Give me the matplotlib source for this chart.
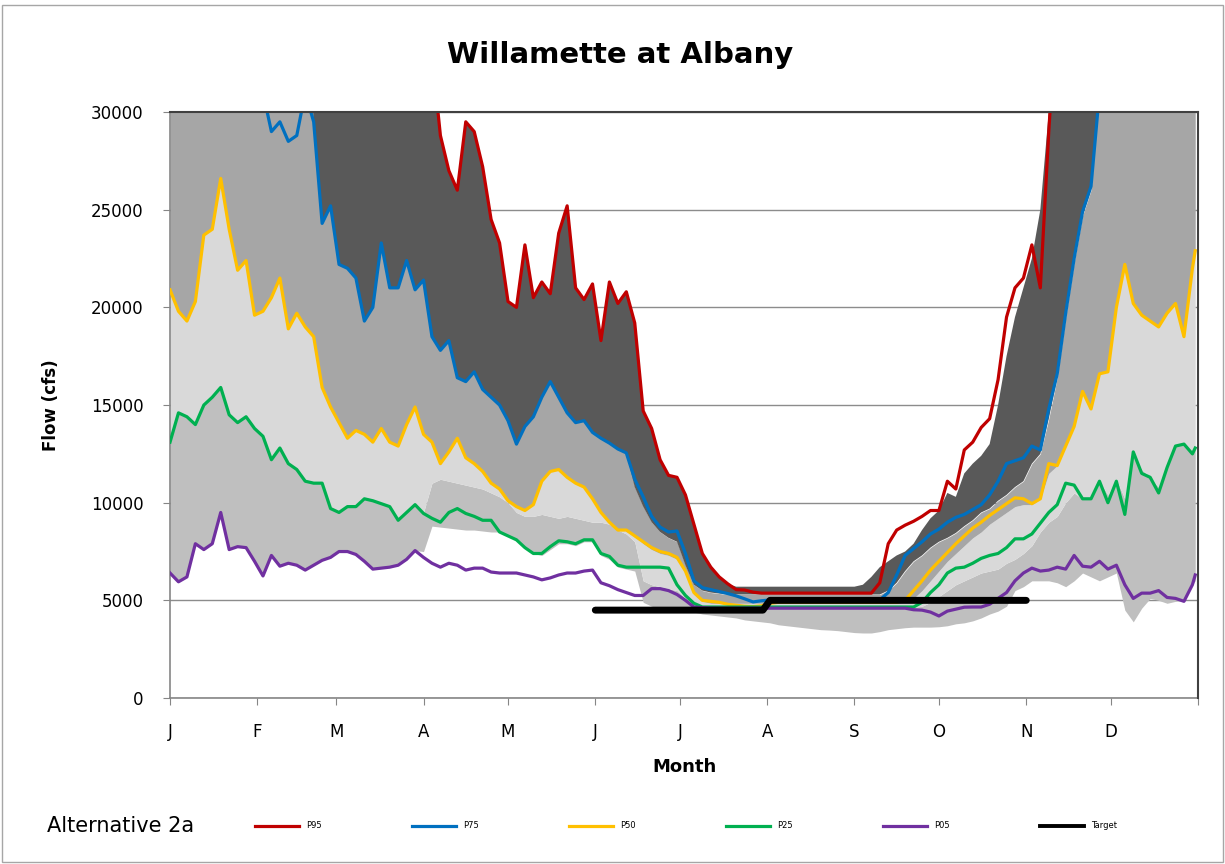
import numpy as np
import matplotlib
matplotlib.use("Agg")
import matplotlib.pyplot as plt
from matplotlib.lines import Line2D
from matplotlib.patches import Rectangle

# day of year, one value every 3 days (plus 31 Dec)
days = list(range(0, 364, 3)) + [364]

# Alternative 2a percentiles (cfs); values above 30000 are off the chart
p95 = [45000, 45000, 45000, 45000, 45000, 45000, 45000, 45000, 45000, 45000,
       45000, 45000, 45000, 45000, 45000, 45000, 45000, 45000, 45000, 45000,
       45000, 45000, 45000, 45000, 45000, 45000, 45000, 45000, 45000, 45000,
       40000, 33000, 28800, 27000, 26000, 29500, 29000, 27200, 24500, 23300,
       20300, 20000, 23200, 20500, 21300, 20700, 23800, 25200, 21000, 20400,
       21200, 18300, 21300, 20200, 20800, 19200, 14700, 13800, 12200, 11400,
       11300, 10400, 8900, 7400, 6700, 6200, 5850, 5550, 5530, 5420,
       5370, 5370, 5370, 5370, 5370, 5370, 5370, 5370, 5370, 5370,
       5370, 5370, 5370, 5370, 5900, 7900, 8600, 8850, 9050, 9300,
       9600, 9600, 11100, 10700, 12700, 13100, 13850, 14300, 16300, 19500,
       21000, 21500, 23200, 21000, 29000, 36000, 40000, 42000, 44000, 45000,
       45000, 45000, 45000, 45000, 45000, 45000, 45000, 45000, 45000, 45000,
       45000, 45000, 45000]
p75 = [36000, 36000, 35500, 35000, 34500, 34000, 33500, 33000, 32500, 32000,
       31500, 31000, 29000, 29500, 28500, 28800, 31000, 29500, 24300, 25200,
       22200, 22000, 21500, 19300, 20000, 23300, 21000, 21000, 22400, 20900,
       21400, 18500, 17800, 18300, 16400, 16200, 16700, 15800, 15400, 15000,
       14200, 13000, 13900, 14400, 15400, 16200, 15400, 14600, 14100, 14200,
       13600, 13300, 13050, 12750, 12550, 11200, 10300, 9300, 8750, 8500,
       8550, 7400, 6000, 5650, 5550, 5450, 5350, 5230, 5080, 4920,
       4980, 5020, 5020, 5020, 5020, 5020, 5020, 5020, 5020, 5020,
       5020, 5020, 5020, 5020, 5020, 5400, 6300, 7300, 7650, 8000,
       8400, 8650, 9000, 9250, 9400, 9650, 9900, 10400, 11100, 12000,
       12150, 12300, 12900, 12700, 14800, 16600, 19700, 22500, 24900, 26200,
       31000, 34000, 35000, 36000, 37000, 38000, 38000, 38000, 38000, 38000,
       38000, 38000, 38000]
p50 = [20900, 19800, 19300, 20300, 23700, 24000, 26600, 24000, 21900, 22400,
       19600, 19800, 20500, 21500, 18900, 19700, 19000, 18500, 15900, 14900,
       14100, 13300, 13700, 13500, 13100, 13800, 13100, 12900, 14000, 14900,
       13500, 13100, 12000, 12600, 13300, 12300, 12000, 11600, 11000, 10700,
       10100, 9800, 9600, 9900, 11100, 11600, 11700, 11300, 11000, 10800,
       10200, 9500, 9000, 8600, 8600, 8300, 8000, 7700, 7500, 7400,
       7200, 6500, 5400, 5000, 4950, 4900, 4800, 4750, 4700, 4680,
       4720, 4850, 4900, 4900, 4900, 4900, 4900, 4900, 4900, 4900,
       4900, 4900, 4900, 4900, 4900, 4900, 4900, 5000, 5500, 6000,
       6550, 7000, 7450, 7900, 8300, 8700, 9000, 9350, 9650, 9950,
       10250, 10200, 9950, 10200, 12000, 11900, 12900, 13900, 15700, 14800,
       16600, 16700, 20000, 22200, 20200, 19600, 19300, 19000, 19700, 20200,
       18500, 22000, 22900]
p25 = [13100, 14600, 14400, 14000, 15000, 15400, 15900, 14500, 14100, 14400,
       13800, 13400, 12200, 12800, 12000, 11700, 11100, 11000, 11000, 9700,
       9500, 9800, 9800, 10200, 10100, 9950, 9800, 9100, 9500, 9900,
       9450, 9200, 9000, 9500, 9700, 9450, 9300, 9100, 9100, 8500,
       8300, 8100, 7700, 7400, 7400, 7750, 8050, 8000, 7900, 8100,
       8100, 7400, 7250, 6800, 6700, 6700, 6700, 6700, 6700, 6650,
       5800, 5250, 4850, 4660, 4660, 4660, 4660, 4660, 4660, 4660,
       4660, 4660, 4660, 4660, 4660, 4660, 4660, 4660, 4660, 4660,
       4660, 4660, 4660, 4660, 4660, 4660, 4660, 4660, 4660, 4900,
       5400, 5800, 6400, 6650, 6700, 6900, 7150, 7300, 7400, 7700,
       8150, 8150, 8400, 8950, 9500, 9900, 11000, 10900, 10200, 10200,
       11100, 10000, 11100, 9400, 12600, 11500, 11300, 10500, 11800, 12900,
       13000, 12500, 12800]
p05 = [6400, 5950, 6200, 7900, 7600, 7900, 9500, 7600, 7750, 7700,
       7000, 6250, 7300, 6750, 6900, 6800, 6550, 6800, 7050, 7200,
       7500, 7500, 7350, 7000, 6600, 6650, 6700, 6800, 7100, 7550,
       7200, 6900, 6700, 6900, 6800, 6550, 6650, 6650, 6450, 6400,
       6400, 6400, 6300, 6200, 6050, 6150, 6300, 6400, 6400, 6500,
       6550, 5900, 5750, 5550, 5400, 5250, 5250, 5600, 5600, 5500,
       5300, 5000, 4660, 4630, 4600, 4600, 4600, 4600, 4600, 4600,
       4600, 4600, 4600, 4600, 4600, 4600, 4600, 4600, 4600, 4600,
       4600, 4600, 4600, 4600, 4600, 4600, 4600, 4600, 4520, 4500,
       4400, 4200, 4450, 4550, 4650, 4660, 4660, 4800, 5100, 5400,
       6000, 6400, 6650, 6500, 6550, 6700, 6600, 7300, 6750, 6700,
       7000, 6600, 6800, 5800, 5100, 5370, 5370, 5500, 5150, 5100,
       4950, 5800, 6300]

# base case percentiles, drawn as the grey bands
base_p95 = [50000, 50000, 50000, 50000, 50000, 50000, 50000, 50000, 50000, 50000,
            50000, 50000, 50000, 50000, 50000, 50000, 50000, 50000, 50000, 50000,
            50000, 50000, 50000, 50000, 50000, 50000, 50000, 50000, 50000, 50000,
            40000, 33000, 28800, 27000, 26000, 29500, 29000, 27200, 24500, 23300,
            20300, 20000, 23200, 20500, 21300, 20700, 23800, 25200, 21000, 20400,
            21200, 18300, 21300, 20200, 20800, 19200, 14700, 13800, 12200, 11400,
            11300, 10400, 8900, 7400, 6700, 6200, 5850, 5700, 5700, 5700,
            5700, 5700, 5700, 5700, 5700, 5700, 5700, 5700, 5700, 5700,
            5700, 5700, 5800, 6200, 6700, 7000, 7300, 7500, 7900, 8600,
            9200, 9600, 10500, 10300, 11500, 12000, 12400, 13000, 15000, 17500,
            19500, 21000, 22500, 25000, 30000, 36000, 40000, 42000, 44000, 45000,
            50000, 50000, 50000, 50000, 50000, 50000, 50000, 50000, 50000, 50000,
            50000, 50000, 50000]
base_p75 = [40000, 40000, 40000, 40000, 40000, 40000, 40000, 40000, 40000, 40000,
            40000, 40000, 40000, 40000, 40000, 40000, 40000, 29500, 24300, 25200,
            22200, 22000, 21500, 19300, 20000, 23300, 21000, 21000, 22400, 20900,
            21400, 18500, 17800, 18300, 16400, 16200, 16700, 15800, 15400, 15000,
            14200, 13000, 13900, 14400, 15400, 16200, 15400, 14600, 14100, 14200,
            13600, 13300, 13050, 12750, 12550, 10800, 9800, 9000, 8500, 8200,
            8000, 6800, 5800, 5500, 5400, 5350, 5300, 5300, 5300, 5300,
            5300, 5300, 5300, 5300, 5300, 5300, 5300, 5300, 5300, 5300,
            5300, 5300, 5300, 5300, 5300, 5500, 5900, 6500, 7000, 7300,
            7700, 8000, 8200, 8450, 8800, 9100, 9500, 9700, 10100, 10400,
            10800, 11100, 12000, 12500, 14300, 16400, 19500, 22300, 24700, 26000,
            31000, 40000, 40000, 40000, 40000, 40000, 40000, 40000, 40000, 40000,
            40000, 40000, 40000]
base_p50 = [20900, 19800, 19300, 20300, 23700, 24000, 26600, 24000, 21900, 22400,
            19600, 19800, 20500, 21500, 18900, 19700, 19000, 18500, 15900, 14900,
            14100, 13300, 13700, 13500, 13100, 13800, 13100, 12900, 14000, 14900,
            13500, 13100, 12000, 12600, 13300, 12300, 12000, 11600, 11000, 10700,
            10100, 9800, 9600, 9900, 11100, 11600, 11700, 11300, 11000, 10800,
            10200, 9500, 9000, 8600, 8600, 8300, 7900, 7600, 7400, 7300,
            7100, 6400, 5300, 4950, 4850, 4850, 4850, 4850, 4850, 4850,
            4850, 4850, 4850, 4850, 4850, 4850, 4850, 4850, 4850, 4850,
            4850, 4850, 4850, 4850, 4850, 4850, 4850, 4900, 5100, 5500,
            6000, 6500, 7000, 7400, 7800, 8200, 8500, 8900, 9200, 9500,
            9800, 9900, 9900, 10200, 11500, 11900, 12900, 13900, 15700, 14800,
            16600, 16700, 20000, 22200, 20200, 19600, 19300, 19000, 19700, 20200,
            18500, 22000, 22900]
base_p25 = [13100, 14600, 14400, 14000, 15000, 15400, 15900, 14500, 14100, 14400,
            13800, 13400, 12200, 12800, 12000, 11700, 11100, 11000, 11000, 9700,
            9500, 9800, 9800, 10200, 10100, 9950, 9800, 9100, 9500, 9900,
            9500, 11000, 11200, 11100, 11000, 10900, 10800, 10700, 10500, 10300,
            10000, 9500, 9300, 9300, 9400, 9300, 9200, 9300, 9200, 9100,
            9000, 9000, 8900, 8600, 8400, 8000, 6000, 5800, 5700, 5600,
            5500, 5100, 4800, 4700, 4650, 4650, 4650, 4650, 4650, 4650,
            4650, 4650, 4650, 4650, 4650, 4650, 4650, 4650, 4650, 4650,
            4650, 4650, 4650, 4650, 4650, 4650, 4650, 4650, 4650, 4700,
            4900, 5200, 5500, 5800, 6000, 6200, 6400, 6500, 6600, 6900,
            7100, 7400, 7800, 8500, 9000, 9300, 10000, 10500, 10200, 10300,
            11100, 10400, 11200, 10200, 12600, 11700, 11300, 10800, 11800, 12900,
            13000, 12600, 12900]
base_p05 = [6400, 5950, 6200, 7900, 7600, 7900, 9500, 7600, 7750, 7700,
            7000, 6250, 7300, 6750, 6900, 6800, 6550, 6800, 7050, 7200,
            7500, 7500, 7350, 7000, 6600, 6650, 6700, 6800, 7100, 7550,
            7500, 8800, 8750, 8700, 8650, 8600, 8600, 8550, 8500, 8500,
            8300, 8100, 7700, 7400, 7300, 7600, 7900, 7900, 7800, 8000,
            8000, 7300, 7100, 6700, 6600, 6500, 4900, 4700, 4600, 4550,
            4500, 4450, 4400, 4300, 4250, 4200, 4150, 4100, 4000, 3950,
            3900, 3850, 3750, 3700, 3650, 3600, 3550, 3500, 3480, 3450,
            3400, 3350, 3330, 3330, 3400, 3500, 3550, 3600, 3630, 3630,
            3630, 3650, 3700, 3800, 3850, 3950, 4100, 4300, 4450, 4700,
            5500, 5700, 6000, 6000, 6000, 5900, 5700, 6000, 6400, 6200,
            6000, 6200, 6400, 4500, 3900, 4600, 5100, 5000, 4850, 4950,
            5000, 5800, 6000]

# flow target
target_days = [151, 210.5, 213, 304]
target_flow = [4500, 4500, 5000, 5000]

month_days = [0, 31, 59, 90, 120, 151, 181, 212, 243, 273, 304, 334, 365]
month_labels = ["J", "F", "M", "A", "M", "J", "J", "A", "S", "O", "N", "D", ""]

series = [("P95", p95, "#C00000"), ("P75", p75, "#0070C0"),
          ("P50", p50, "#FFC000"), ("P25", p25, "#00B050"),
          ("P05", p05, "#7030A0")]

fig = plt.figure(figsize=(12.25, 8.64), dpi=100)
ax = fig.add_axes([0.1388, 0.1921, 0.8392, 0.6782])

# grey bands of the base case
ax.fill_between(days, base_p05, base_p25, color="#BFBFBF", lw=0, zorder=1)
ax.fill_between(days, base_p25, base_p50, color="#D9D9D9", lw=0, zorder=1)
ax.fill_between(days, base_p50, base_p75, color="#A6A6A6", lw=0, zorder=1)
ax.fill_between(days, base_p75, base_p95, color="#595959", lw=0, zorder=1)

lw = 2.3
handles = []
for name, vals, col in series:
    ax.plot(days, vals, color=col, lw=lw, zorder=3)
    handles.append(Line2D([], [], color=col, lw=lw, label=name))
ax.plot(target_days, target_flow, color="black", lw=5,
        solid_capstyle="round", zorder=4)
handles.append(Line2D([], [], color="black", lw=lw + 0.5, label="Target"))

ax.set_xlim(0, 365)
ax.set_ylim(0, 30000)
ax.set_yticks(range(0, 30001, 5000))
ax.set_xticks(month_days)
ax.set_xticklabels(month_labels)
ax.tick_params(axis="y", labelsize=12, length=5, color="#868686", pad=14)
ax.tick_params(axis="x", labelsize=12, length=5, color="#868686", pad=13)

ax.yaxis.grid(True, color="#8C8C8C", lw=1)
ax.set_axisbelow(True)
for s in ["left", "bottom"]:
    ax.spines[s].set_color("#868686")
    ax.spines[s].set_linewidth(1.2)
for s in ["top", "right"]:
    ax.spines[s].set_color("#404040")
    ax.spines[s].set_linewidth(1.5)
    ax.spines[s].set_zorder(5)

ax.set_ylabel("Flow (cfs)", fontsize=12, weight="bold", labelpad=22)
ax.set_xlabel("Month", fontsize=13, weight="bold", labelpad=12)
fig.text(0.506, 0.936, "Willamette at Albany", fontsize=21, weight="bold",
         ha="center", va="center")

# legend row at the bottom
fig.text(47 / 1225, 1 - 826 / 864, "Alternative 2a", fontsize=15,
         ha="left", va="center")
fig.legend(handles=handles, loc="center left",
           bbox_to_anchor=(255 / 1225, 1 - 826 / 864), ncol=6, frameon=False,
           fontsize=6, handlelength=5.3, handletextpad=0.85,
           columnspacing=10.8, borderpad=0, borderaxespad=0)

# chart border
fig.patches.append(Rectangle((2 / 1225, 2 / 864), 1 - 4 / 1225, 1 - 7 / 864,
                             transform=fig.transFigure, fill=False,
                             edgecolor="#A6A6A6", lw=1))

fig.savefig("out.png", dpi=100)
